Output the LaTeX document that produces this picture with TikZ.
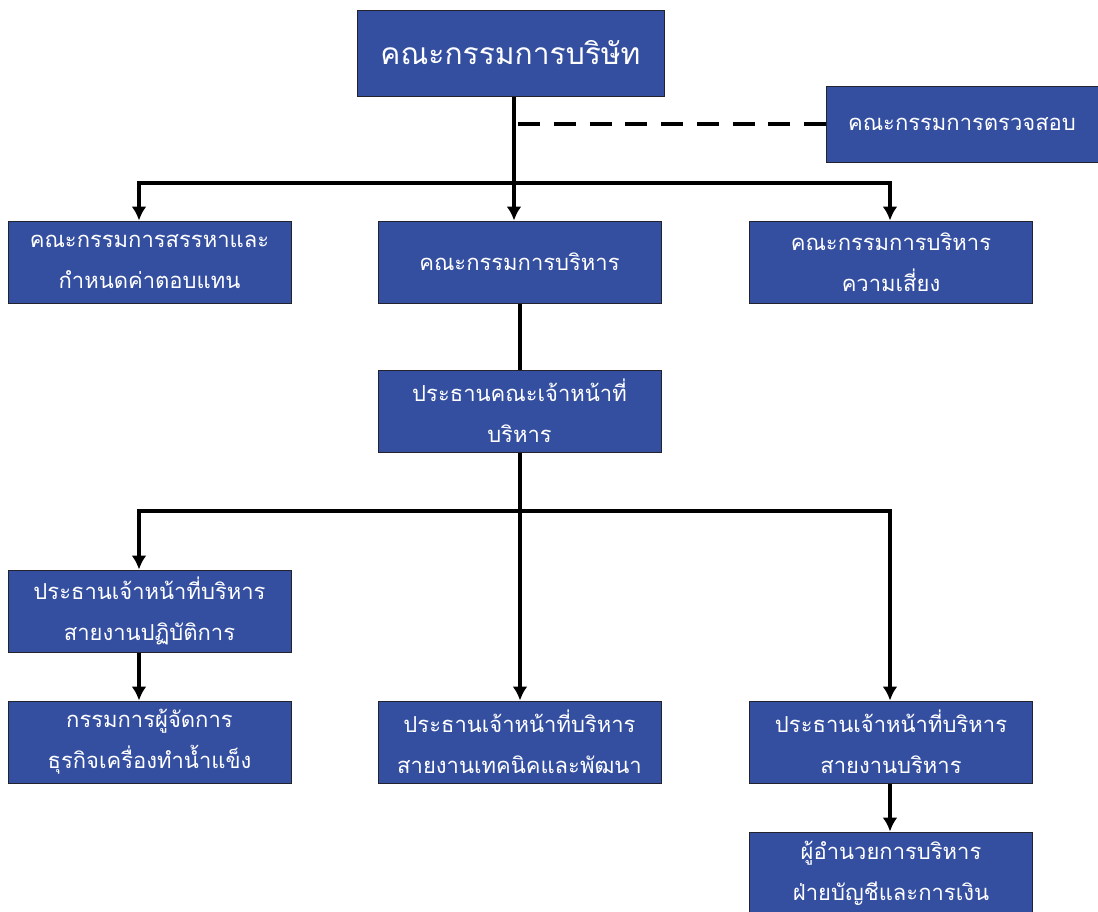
\documentclass[tikz,border=0pt]{standalone}
\usepackage{fontspec}
\newfontfamily\thaifont[Script=Thai]{Loma}
\usetikzlibrary{arrows.meta,calc,positioning}
\definecolor{BoardBlue}{RGB}{52,78,160}
\definecolor{BoardEdge}{RGB}{35,35,45}

\begin{document}
\begin{tikzpicture}[x=1pt, y=-1pt, >={Latex[length=14pt,width=15pt]}]
    \tikzstyle{unit}=[draw=BoardEdge, line width=1pt, fill=BoardBlue, text=white, minimum width=283pt, minimum height=82pt, inner sep=0pt, align=center, font=\thaifont\fontsize{22}{41}\selectfont]
    \tikzstyle{link}=[line width=4pt, line join=miter]
    \useasboundingbox (0,0) rectangle (1098,911);
    % top level
    \node[unit, minimum width=307pt, minimum height=86pt, font=\thaifont\fontsize{30}{36}\selectfont] (board) at (510.5,53) {คณะกรรมการบริษัท};
    \node[unit, minimum width=272pt, minimum height=76pt] (audit) at (962,124) {คณะกรรมการตรวจสอบ};
    % committees
    \node[unit] (nomination) at (149.5,262) {คณะกรรมการสรรหาและ\\กำหนดค่าตอบแทน};
    \node[unit] (executive) at (519.5,262) {คณะกรรมการบริหาร};
    \node[unit] (risk) at (891,262) {คณะกรรมการบริหาร\\ความเสี่ยง};
    \node[unit] (ceo) at (519.5,411) {ประธานคณะเจ้าหน้าที่\\บริหาร};
    % officers
    \node[unit] (ops) at (149.5,611) {ประธานเจ้าหน้าที่บริหาร\\สายงานปฏิบัติการ};
    \node[unit] (ice) at (149.5,742) {กรรมการผู้จัดการ\\ธุรกิจเครื่องทำน้ำแข็ง};
    \node[unit] (tech) at (519.5,742) {ประธานเจ้าหน้าที่บริหาร\\สายงานเทคนิคและพัฒนา};
    \node[unit] (admin) at (891,742) {ประธานเจ้าหน้าที่บริหาร\\สายงานบริหาร};
    \node[unit] (finance) at (891,873) {ผู้อำนวยการบริหาร\\ฝ่ายบัญชีและการเงิน};

    \coordinate (topmid) at (514,183);
    \coordinate (topL) at (139,183);
    \coordinate (topR) at (890,183);
    \coordinate (lowmid) at (520,511);
    \coordinate (lowL) at (139,511);
    \coordinate (lowR) at (890,511);

    \draw[link, ->] (board.south -| topmid) -- (executive.north -| topmid);
    \draw[link, <->] (nomination.north -| topL) -- (topL) -- (topR) -- (risk.north -| topR);
    \draw[link, dash pattern=on 22pt off 13.75pt] ($(audit.west -| topmid)+(4,0)$) -- (audit.west);
    \draw[link] (executive.south -| lowmid) -- (ceo.north -| lowmid);
    \draw[link, ->] (ceo.south -| lowmid) -- (tech.north -| lowmid);
    \draw[link, <->] (ops.north -| lowL) -- (lowL) -- (lowR) -- (admin.north -| lowR);
    \draw[link, ->] (ops.south -| lowL) -- (ice.north -| lowL);
    \draw[link, ->] (admin.south -| lowR) -- (finance.north -| lowR);
\end{tikzpicture}
\end{document}
